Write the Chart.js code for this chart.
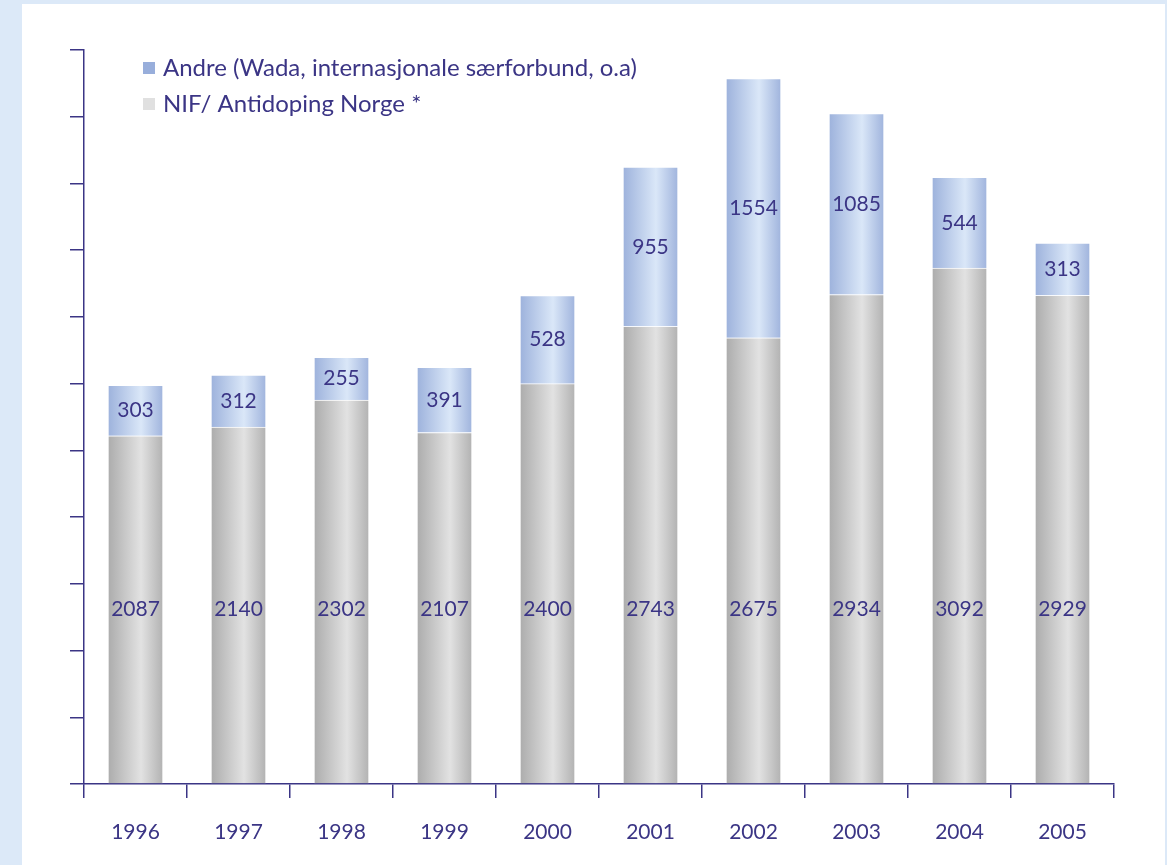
<!DOCTYPE html>
<html>
<head>
<meta charset="utf-8">
<script src="https://cdn.jsdelivr.net/npm/chart.js@4/dist/chart.umd.min.js"></script>
<style>
html,body{margin:0;padding:0;background:#dce9f8;}
#wrap{position:absolute;left:0;top:0;width:1167px;height:865px;}
</style>
</head>
<body>
<div id="wrap"><canvas id="c" width="1167" height="865"></canvas></div>
<script>
const categories = ['1996','1997','1998','1999','2000','2001','2002','2003','2004','2005'];
const nifValues = [2087, 2140, 2302, 2107, 2400, 2743, 2675, 2934, 3092, 2929];
const andreValues = [303, 312, 255, 391, 528, 955, 1554, 1085, 544, 313];
const seriesNames = ['NIF/ Antidoping Norge *', 'Andre (Wada, internasjonale særforbund, o.a)'];

const INK = '#3b3585';
const FONT = 'Lato, "Noto Sans", sans-serif';
const BAR_W = 55;

function grad(ctx, stops) {
  const chart = ctx.chart;
  const xs = chart.scales && chart.scales.x;
  if (!xs || xs.width === undefined || !chart.chartArea) return stops[1];
  const c = xs.getPixelForValue(ctx.dataIndex);
  const g = chart.ctx.createLinearGradient(c - BAR_W/2, 0, c + BAR_W/2, 0);
  g.addColorStop(0, stops[0]);
  g.addColorStop(0.6, stops[1]);
  g.addColorStop(1, stops[2]);
  return g;
}

const bgPlugin = {
  id: 'bg',
  beforeDraw(chart) {
    const c = chart.ctx;
    c.save();
    c.fillStyle = '#dce9f8';
    c.fillRect(0, 0, chart.width, chart.height);
    c.fillStyle = '#ffffff';
    c.fillRect(22, 4, 1143, 861);
    c.restore();
  }
};

const labelPlugin = {
  id: 'labels',
  afterDatasetsDraw(chart) {
    const c = chart.ctx;
    const ys = chart.scales.y;
    c.save();
    c.fillStyle = INK;
    c.font = '21px ' + FONT;
    c.textAlign = 'center';
    c.textBaseline = 'middle';
    const m0 = chart.getDatasetMeta(0);
    m0.data.forEach((bar, i) => {
      c.fillText(String(nifValues[i]), bar.x, ys.getPixelForValue(1050));
    });
    const m1 = chart.getDatasetMeta(1);
    m1.data.forEach((bar, i) => {
      c.fillText(String(andreValues[i]), bar.x, (bar.y + bar.base) / 2);
    });
    // legend
    c.textAlign = 'left';
    c.font = '24px ' + FONT;
    c.fillStyle = '#98aedb';
    c.fillRect(143, 62, 12, 12);
    c.fillStyle = '#e0e0e0';
    c.fillRect(143, 98, 12, 12);
    c.fillStyle = INK;
    c.fillText(seriesNames[1], 163, 68);
    c.fillText(seriesNames[0], 163, 104);
    c.restore();
  }
};

new Chart(document.getElementById('c'), {
  type: 'bar',
  data: {
    labels: categories,
    datasets: [
      {
        label: seriesNames[0],
        data: nifValues,
        backgroundColor: (ctx) => grad(ctx, ['#acacac', '#e2e2e2', '#b2b2b2']),
        borderColor: 'rgba(255,255,255,0.7)',
        borderWidth: 1,
        barThickness: BAR_W
      },
      {
        label: seriesNames[1],
        data: andreValues,
        backgroundColor: (ctx) => grad(ctx, ['#9db2dc', '#dae7f8', '#a0b4dd']),
        borderColor: 'rgba(255,255,255,0.7)',
        borderWidth: 1,
        barThickness: BAR_W
      }
    ]
  },
  options: {
    responsive: false,
    animation: false,
    devicePixelRatio: 1,
    layout: { padding: { top: 50, right: 53, left: 0, bottom: 0 } },
    plugins: { legend: { display: false }, tooltip: { enabled: false } },
    scales: {
      x: {
        stacked: true,
        grid: { drawOnChartArea: false, color: INK, tickLength: 14, lineWidth: 1.5 },
        border: { display: true, color: INK, width: 1.5 },
        ticks: { color: INK, font: { family: FONT, size: 21 }, padding: 22, maxRotation: 0 },
        afterFit(s) { s.height = 81; }
      },
      y: {
        stacked: true,
        min: 0,
        max: 4400,
        grid: { drawOnChartArea: false, color: INK, tickLength: 14, lineWidth: 1.5 },
        border: { display: true, color: INK, width: 1.5 },
        ticks: { display: false, stepSize: 400 },
        afterFit(s) { s.width = 84; }
      }
    }
  },
  plugins: [bgPlugin, labelPlugin]
});
</script>
</body>
</html>
